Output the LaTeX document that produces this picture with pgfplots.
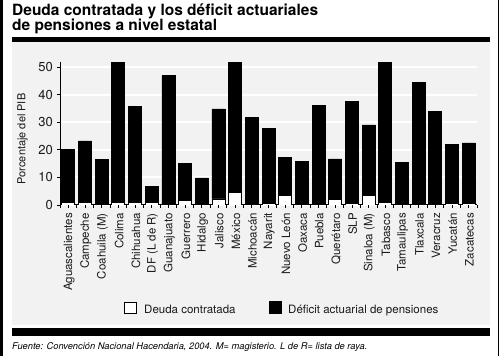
\documentclass[border=0pt]{standalone}
\usepackage{fontspec}
\setmainfont{TeX Gyre Heros}
\usepackage{pgfplots}
\usepackage{pgfplotstable}
\pgfplotsset{compat=1.18}
\definecolor{panel}{HTML}{F2F2F2}
\definecolor{txt}{HTML}{1A1A1A}
\pgfplotstableread{
idx debt deficit
0  1.0 19.0
1  0.8 22.4
2  0.0 16.6
3  0.8 51.0
4  0.8 35.0
5  0.8 5.8
6  0.0 46.8
7  1.8 13.2
8  0.0 9.8
9  2.2 32.6
10 4.6 47.2
11 0.0 31.8
12 0.6 27.0
13 3.4 13.7
14 0.0 15.8
15 0.0 36.1
16 2.0 14.7
17 0.6 36.8
18 3.4 25.6
19 0.8 50.9
20 0.0 15.3
21 0.0 44.5
22 0.0 33.8
23 0.6 21.3
24 0.6 21.9
}\datatable
\begin{document}
\begin{tikzpicture}[x=1pt,y=1pt]
\path[use as bounding box] (0,0) rectangle (500,356);
% outer borders
\fill[black] (0,0) rectangle (2.5,356);
\fill[black] (497.5,0) rectangle (499,356);
% title
\node[anchor=base west, inner sep=0pt, font=\fontsize{15.5}{16}\selectfont\bfseries] at (12,340.5) {Deuda contratada y los déficit actuariales};
\node[anchor=base west, inner sep=0pt, font=\fontsize{15.5}{16}\selectfont\bfseries] at (12,325.5) {de pensiones a nivel estatal};
% rules and panel
\fill[black] (12,314.3) rectangle (490,319.3);
\fill[panel] (12,31) rectangle (490,314.3);
\fill[black] (12,20.3) rectangle (490,28);
% footnote
\node[anchor=base west, inner sep=0pt, font=\fontsize{9.3}{10}\selectfont\itshape] at (12,7) {Fuente: Convención Nacional Hacendaria, 2004. M= magisterio. L de R= lista de raya.};
% y label
\node[rotate=90, inner sep=0pt, text=txt, font=\fontsize{11}{12}\selectfont] at (22.5,217) {Porcentaje del PIB};
% legend
\draw[black, line width=0.9pt, fill=white] (124,42.5) rectangle (136.5,54);
\node[anchor=base west, inner sep=0pt, text=txt, font=\fontsize{11.5}{12}\selectfont] at (144,42.5) {Deuda contratada};
\fill[black] (268.5,42.5) rectangle (281.5,55.5);
\node[anchor=base west, inner sep=0pt, text=txt, font=\fontsize{11.5}{12}\selectfont] at (288,42.5) {Déficit actuarial de pensiones};
\begin{axis}[
  at={(60pt,151pt)}, anchor=south west,
  scale only axis, width=417pt, height=143.5pt,
  xmin=-0.5, xmax=24.5, ymin=0, ymax=52,
  ybar stacked, bar width=13pt,
  axis x line*=bottom, axis y line*=left,
  axis line style={black, line width=1pt, -},
  tick align=outside,
  major tick length=3pt, minor tick length=3pt,
  tick style={black, line width=0.8pt},
  xtick=data,
  minor xtick={-0.5,0.5,...,24.5},
  xticklabels={Aguascalientes,Campeche,Coahuila (M),Colima,Chihuahua,DF (L de R),Guanajuato,Guerrero,Hidalgo,Jalisco,México,Michoacán,Nayarit,Nuevo León,Oaxaca,Puebla,Querétaro,SLP,Sinaloa (M),Tabasco,Tamaulipas,Tlaxcala,Veracruz,Yucatán,Zacatecas},
  xticklabel style={yshift=-5pt, xshift=0.8pt, rotate=90, anchor=east, inner sep=0pt, text=txt, font=\fontsize{11.5}{12}\selectfont},
  ytick={0,10,...,50},
  yticklabel style={font=\fontsize{13}{14}\selectfont, text=txt, inner sep=0pt, xshift=-4pt},
  /pgf/number format/assume math mode=true,
  ymajorgrids, grid style={white, line width=2pt},
]
\addplot[fill=white, draw=black, line width=0.8pt] table[x=idx, y=debt] {\datatable};
\addplot[fill=black, draw=black, line width=0.8pt] table[x=idx, y=deficit] {\datatable};
\end{axis}
\end{tikzpicture}
\end{document}
